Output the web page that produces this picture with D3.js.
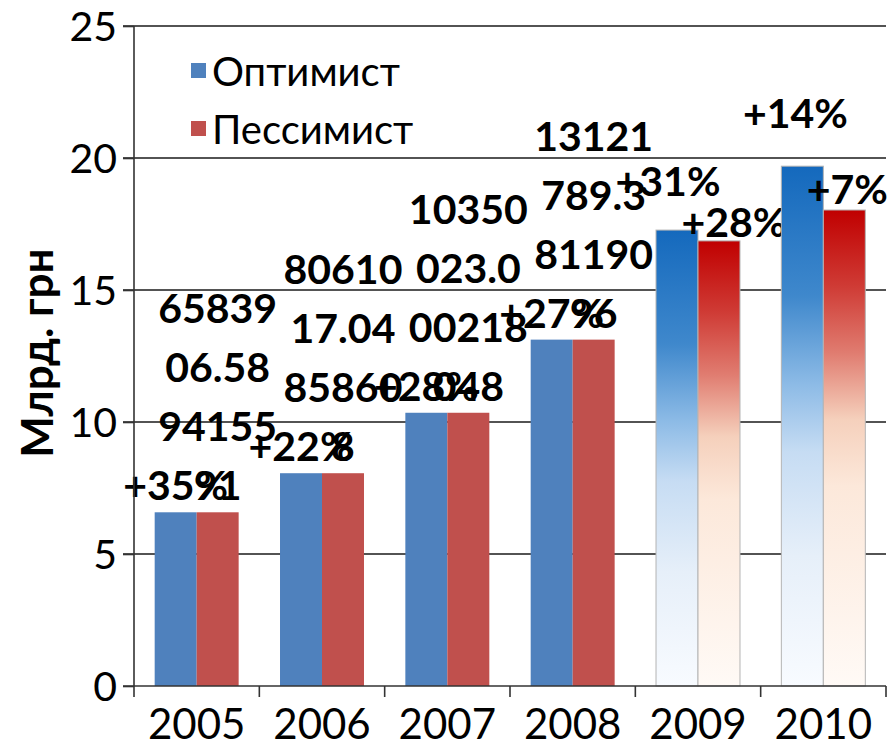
<!DOCTYPE html>
<html>
  <head>
    <meta charset="utf-8">
    <title>Optimist / Pessimist</title>
    <script src="https://d3js.org/d3.v7.min.js"></script>
    <style>
      body { margin: 0; background: white; }
      text { font-family: Lato, "Noto Sans", sans-serif; fill: black; }
      .lbl { font-weight: bold; font-size: 41px; }
    </style>
  </head>
  <body>
    <script>

      let width = 891, height = 747;

      // data
      let years = ["2005", "2006", "2007", "2008", "2009", "2010"];
      let forecastYears = ["2009", "2010"];
      let series = ["Оптимист", "Пессимист"];
      let optimist = [6.58, 8.06, 10.35, 13.12, 17.27, 19.69];
      let pessimist = [6.58, 8.06, 10.35, 13.12, 16.86, 18.03];
      let optLabels = ["+35%", "+22%", "+28%", "+27%", "+31%", "+14%"];
      // the long labels wrap over several lines in the original
      let pesLabels = [["65839", "06.58", "94155", "91"],
                       ["80610", "17.04", "85860", "8"],
                       ["10350", "023.0", "00218", "048"],
                       ["13121", "789.3", "81190", "96"],
                       ["+28%"],
                       ["+7%"]];
      let yTicks = [0, 5, 10, 15, 20, 25];

      // hand-moved labels (x, y shift), style only
      let optShift = [[0,0],[0,0],[0,0],[0,0],[-9,-22],[-7,-26]];
      let pesShift = [[0,0],[0,0],[0,0],[0,0],[15,8],[3,6]];

      let plotLeft = 134, plotRight = 886, plotTop = 26, plotBottom = 686;

      let svg = d3.select("body").append("svg")
                  .attr("width", width)
                  .attr("height", height)

      let defs = svg.append("defs")
      let gradBlue = defs.append("linearGradient").attr("id", "gBlue")
                         .attr("x1", 0).attr("y1", 0).attr("x2", 0).attr("y2", 1)
      ;[[0, "#1469bd"], [0.25, "#3f88cc"], [0.42, "#8dbbe6"], [0.55, "#c6dcf3"], [0.75, "#e6eff9"], [1, "#f8fbff"]]
        .forEach(s => gradBlue.append("stop").attr("offset", s[0]).attr("stop-color", s[1]))
      let gradRed = defs.append("linearGradient").attr("id", "gRed")
                        .attr("x1", 0).attr("y1", 0).attr("x2", 0).attr("y2", 1)
      ;[[0, "#c00000"], [0.16, "#cf3b35"], [0.3, "#e07c70"], [0.44, "#f5d0bc"], [0.58, "#fce8da"], [1, "#fffaf6"]]
        .forEach(s => gradRed.append("stop").attr("offset", s[0]).attr("stop-color", s[1]))

      let y = d3.scaleLinear().domain([0, 25]).range([plotBottom, plotTop])

      let x0 = d3.scaleBand().domain(years).range([plotLeft, plotRight])
                 .paddingInner(0.33).paddingOuter(0.165)
      let x1 = d3.scaleBand().domain(series).range([0, x0.bandwidth()])

      // gridlines
      svg.append("g").selectAll("line").data(yTicks.filter(d => d > 0))
         .enter().append("line")
         .attr("x1", plotLeft - 11).attr("x2", plotRight)
         .attr("y1", d => y(d)).attr("y2", d => y(d))
         .attr("stroke", "#1a1a1a").attr("stroke-width", 1.6)

      // bars
      let rows = years.map((yr, i) => ({year: yr, i: i,
                    vals: [{s: series[0], v: optimist[i], lines: [optLabels[i]], sh: optShift[i]},
                           {s: series[1], v: pessimist[i], lines: pesLabels[i], sh: pesShift[i]}]}))

      let groups = svg.append("g").selectAll("g").data(rows).enter().append("g")
                      .attr("transform", d => `translate(${x0(d.year)},0)`)

      groups.selectAll("rect").data(d => d.vals.map(v => Object.assign({year: d.year}, v)))
            .enter().append("rect")
            .attr("x", d => x1(d.s))
            .attr("width", x1.bandwidth())
            .attr("y", d => y(d.v))
            .attr("height", d => plotBottom - y(d.v))
            .attr("fill", function(d) {
                let fc = forecastYears.includes(d.year)
                if (d.s == series[0]) return fc ? "url(#gBlue)" : "#4f81bd"
                return fc ? "url(#gRed)" : "#c0504d"
            })
            .attr("stroke", d => forecastYears.includes(d.year) ? "#b4b4b4" : "none")
            .attr("stroke-width", 1)

      // y axis
      let yAxis = svg.append("g").attr("transform", `translate(${plotLeft},0)`)
                     .call(d3.axisLeft(y).tickValues(yTicks).tickSize(11).tickPadding(6))
      yAxis.select(".domain").attr("stroke", "#333").attr("stroke-width", 1.6)
           .attr("d", `M0,${plotTop}V${plotBottom}`)
      yAxis.selectAll(".tick line").attr("stroke", "#333").attr("stroke-width", 1.6)
      yAxis.selectAll(".tick text").style("font-size", "41px").style("font-family", "Lato, sans-serif")
           .attr("fill", "black").attr("dy", "0.36em")

      // x axis with ticks on the category edges
      let edges = years.map(d => x0(d) - x0.step() * x0.paddingOuter()).concat([plotRight])
      let xg = svg.append("g")
      xg.append("line").attr("x1", plotLeft - 11).attr("x2", plotRight)
        .attr("y1", plotBottom).attr("y2", plotBottom)
        .attr("stroke", "#333").attr("stroke-width", 1.6)
      xg.selectAll("line.tk").data(edges).enter().append("line").attr("class", "tk")
        .attr("x1", d => d).attr("x2", d => d)
        .attr("y1", plotBottom).attr("y2", plotBottom + 11)
        .attr("stroke", "#333").attr("stroke-width", 1.6)
      xg.selectAll("text").data(years).enter().append("text")
        .attr("x", d => x0(d) + x0.bandwidth() / 2)
        .attr("y", 739)
        .attr("text-anchor", "middle")
        .style("font-size", "42px")
        .text(d => d)

      // data labels
      let lineH = 59
      groups.each(function(row) {
          let g = d3.select(this)
          row.vals.forEach(v => {
              let cx = x1(v.s) + x1.bandwidth() / 2 + v.sh[0]
              let base = y(v.v) - 12 + v.sh[1]
              let n = v.lines.length
              g.selectAll(null).data(v.lines).enter().append("text")
               .attr("class", "lbl")
               .attr("x", cx)
               .attr("y", (d, k) => base - (n - 1 - k) * lineH)
               .attr("text-anchor", "middle")
               .text(d => d)
          })
      })

      // y title
      svg.append("text")
         .attr("transform", "translate(53,353) rotate(-90)")
         .attr("text-anchor", "middle")
         .style("font-size", "44px").style("font-weight", "bold")
         .text("Млрд. грн")

      // legend
      let legColors = ["#4f81bd", "#c0504d"]
      let leg = svg.append("g")
      leg.selectAll("rect").data(series).enter().append("rect")
         .attr("x", 191).attr("y", (d, i) => 63 + i * 58)
         .attr("width", 15).attr("height", 15)
         .attr("fill", (d, i) => legColors[i])
      leg.selectAll("text").data(series).enter().append("text")
         .attr("x", 212).attr("y", (d, i) => 86 + i * 58)
         .style("font-size", "40px")
         .text(d => d)

    </script>
  </body>
</html>
